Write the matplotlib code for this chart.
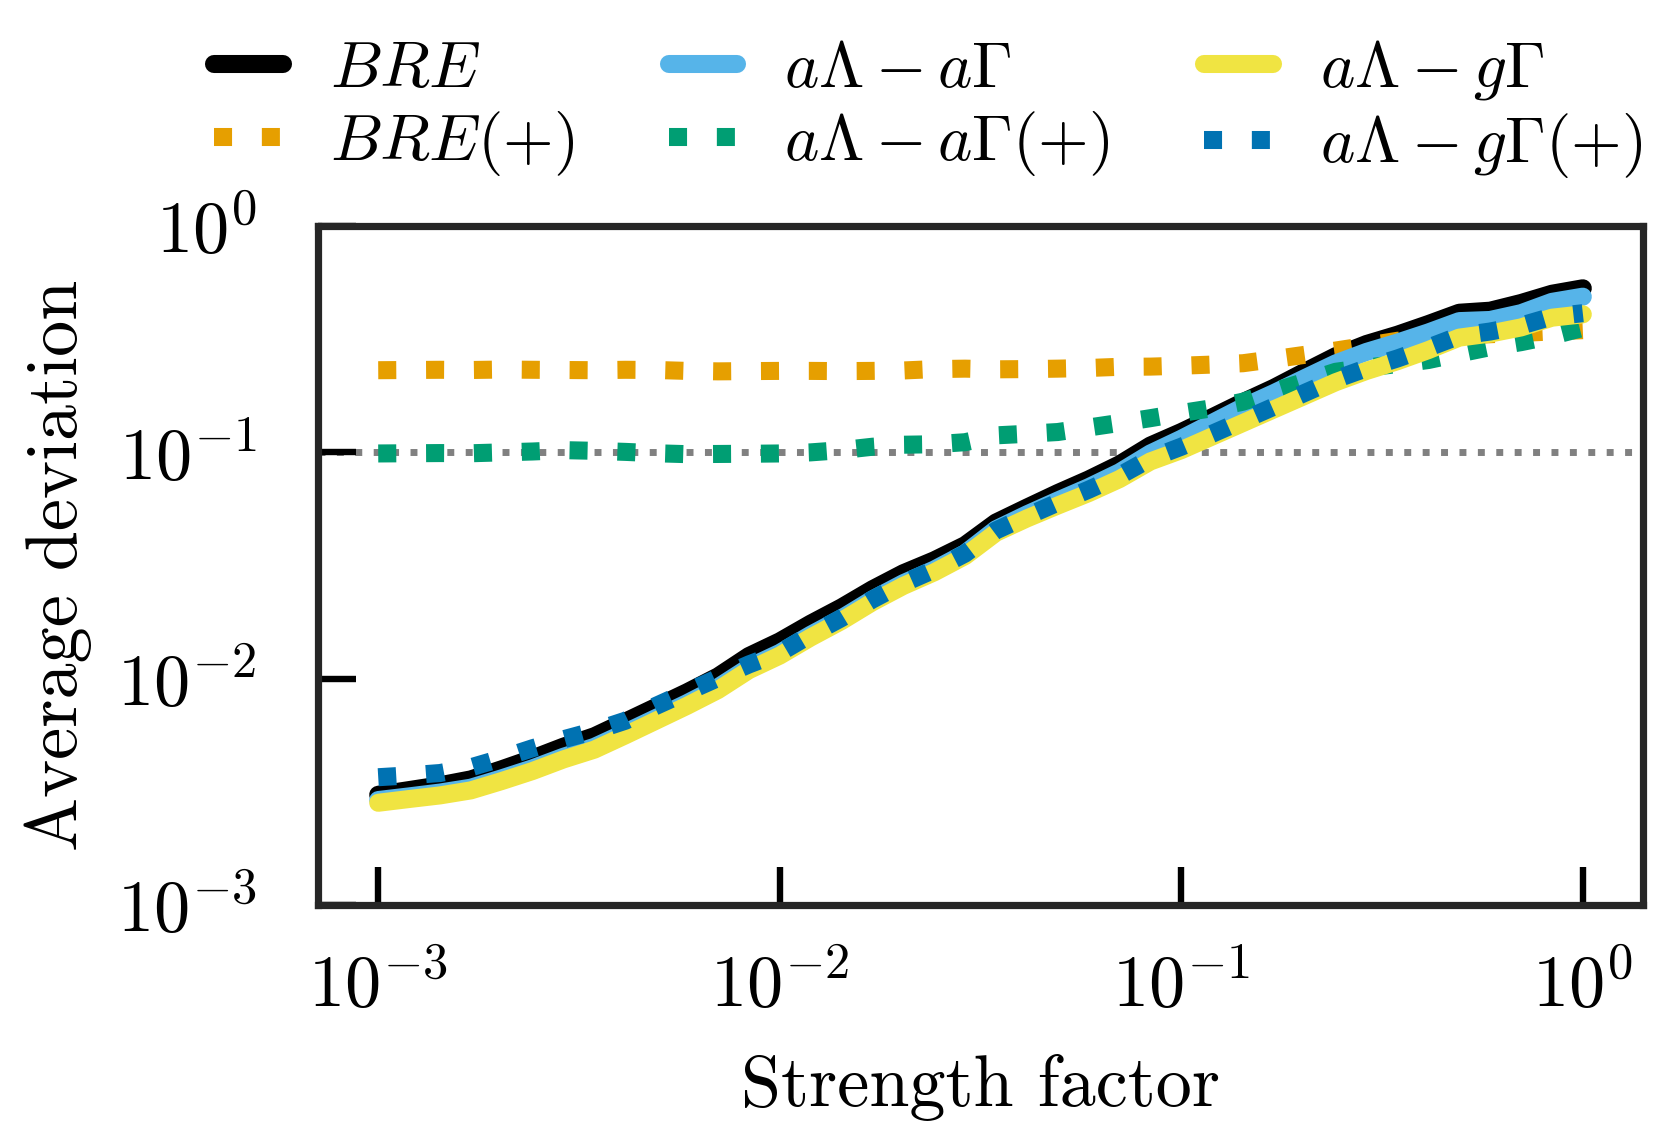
import numpy as np
import matplotlib
matplotlib.use("Agg")
from matplotlib import pyplot as plt

# ============================================================
# Data
# ============================================================

# 40 log-spaced strength factors between 1e-3 and 1e0
strength = np.logspace(-3, 0, 40)

bre = [0.00307, 0.00322, 0.00338, 0.00359, 0.00398, 0.00444, 0.00501, 0.00557,
       0.00646, 0.00750, 0.00871, 0.01023, 0.01259, 0.01462, 0.01750, 0.02065,
       0.02483, 0.02924, 0.03334, 0.03890, 0.04898, 0.0570, 0.0661, 0.0759,
       0.0885, 0.1072, 0.1230, 0.1429, 0.1667, 0.1928, 0.2270, 0.2661,
       0.3013, 0.3311, 0.3690, 0.4140, 0.4227, 0.4571, 0.5023, 0.5309]

bre_plus = [0.2307, 0.2312, 0.2317, 0.2312, 0.2323, 0.2317, 0.2312, 0.2307,
            0.2317, 0.2312, 0.2291, 0.2280, 0.2286, 0.2291, 0.2291, 0.2286,
            0.2291, 0.2301, 0.2333, 0.2344, 0.2328, 0.2333, 0.2344, 0.2360,
            0.2388, 0.2393, 0.2415, 0.2443, 0.2477, 0.2582, 0.2698, 0.2818,
            0.2958, 0.3112, 0.3199, 0.3273, 0.3327, 0.3373, 0.3420, 0.3467]

al_ag = [0.00291, 0.00302, 0.00314, 0.00330, 0.00363, 0.00402, 0.00452, 0.00500,
         0.00578, 0.00671, 0.00780, 0.00916, 0.01122, 0.01300, 0.01563, 0.01849,
         0.02239, 0.02642, 0.03034, 0.03581, 0.04571, 0.05321, 0.06124, 0.07015,
         0.08166, 0.0989, 0.1148, 0.1349, 0.1585, 0.1828, 0.2128, 0.2472,
         0.2780, 0.3055, 0.3388, 0.3802, 0.3846, 0.4121, 0.4624, 0.4875]

al_ag_plus = [0.0989, 0.0991, 0.0993, 0.0991, 0.1000, 0.1009, 0.1023, 0.1016,
              0.1005, 0.0991, 0.0982, 0.0984, 0.0986, 0.0989, 0.1000, 0.1023,
              0.1059, 0.1081, 0.1086, 0.1109, 0.1189, 0.1208, 0.1230, 0.1288,
              0.1349, 0.1416, 0.1493, 0.1567, 0.1675, 0.1858, 0.2051, 0.2270,
              0.2371, 0.2455, 0.2559, 0.2735, 0.2917, 0.3069, 0.3273, 0.3548]

al_gg = [0.00283, 0.00294, 0.00305, 0.00321, 0.00353, 0.00391, 0.00440, 0.00486,
         0.00562, 0.00653, 0.00759, 0.00891, 0.01091, 0.01265, 0.01521, 0.01799,
         0.02178, 0.02570, 0.02951, 0.03483, 0.04416, 0.05105, 0.05821, 0.06607,
         0.07621, 0.09120, 0.1023, 0.1175, 0.1349, 0.1549, 0.1778, 0.2042,
         0.2291, 0.2529, 0.2831, 0.3214, 0.3350, 0.3565, 0.3936, 0.4074]

al_gg_plus = [0.00367, 0.00374, 0.00383, 0.00406, 0.00445, 0.00493, 0.00540, 0.00588,
              0.00652, 0.00759, 0.00875, 0.01007, 0.01156, 0.01303, 0.01567, 0.01854,
              0.02239, 0.02642, 0.03034, 0.03573, 0.04519, 0.05224, 0.05998, 0.06839,
              0.07889, 0.09397, 0.1059, 0.1208, 0.1387, 0.1592, 0.1832, 0.2104,
              0.2355, 0.2600, 0.2904, 0.3273, 0.3420, 0.3631, 0.3981, 0.4121]

threshold = 0.1

labels = [r"$BRE$", r"$BRE(+)$",
          r"$a\Lambda - a\Gamma$", r"$a\Lambda - a\Gamma(+)$",
          r"$a\Lambda - g\Gamma$", r"$a\Lambda - g\Gamma(+)$"]

# ============================================================
# Style
# ============================================================

plt.rcParams["font.family"] = "serif"
plt.rcParams["font.serif"] = ["cmr10"]
plt.rcParams["mathtext.fontset"] = "cm"
plt.rcParams["axes.formatter.use_mathtext"] = True
plt.rcParams["font.size"] = 26
plt.rcParams["axes.unicode_minus"] = True

lw = 6.5

fig, ax = plt.subplots(figsize=(8.32, 5.72), dpi=200)
fig.subplots_adjust(left=0.1911, right=0.9874, bottom=0.2089, top=0.8024)

ax.axhline(threshold, color="gray", linestyle=":", linewidth=2.5, zorder=1)

ax.plot(strength, bre, color="black", lw=lw, solid_capstyle="round", label=labels[0])
ax.plot(strength, bre_plus, color="#E69F00", lw=lw, linestyle=":", label=labels[1])
ax.plot(strength, al_ag, color="#56B4E9", lw=lw, solid_capstyle="round", label=labels[2])
ax.plot(strength, al_ag_plus, color="#009E73", lw=lw, linestyle=":", label=labels[3])
ax.plot(strength, al_gg, color="#F0E442", lw=lw, solid_capstyle="round", label=labels[4])
ax.plot(strength, al_gg_plus, color="#0072B2", lw=lw, linestyle=":", label=labels[5])

ax.set_xscale("log")
ax.set_yscale("log")
ax.set_ylim(1e-3, 1e0)
ax.minorticks_off()

for side in ax.spines.values():
    side.set_linewidth(2.6)
    side.set_color("#262626")

ax.tick_params(axis="both", which="major", direction="in", length=13.7,
               width=2.3, color="black")
ax.tick_params(axis="x", pad=17)
ax.tick_params(axis="y", pad=22)

ax.set_xlabel("Strength factor", labelpad=12)
ax.set_ylabel("Average deviation", labelpad=9)

ax.legend(loc="lower right", bbox_to_anchor=(1.034, 1.0), ncol=3, frameon=False,
          fontsize=23.5, handlelength=1.05, handletextpad=0.72, columnspacing=1.45,
          labelspacing=0.14, borderaxespad=0.3)

plt.savefig("out.png", dpi=200)
